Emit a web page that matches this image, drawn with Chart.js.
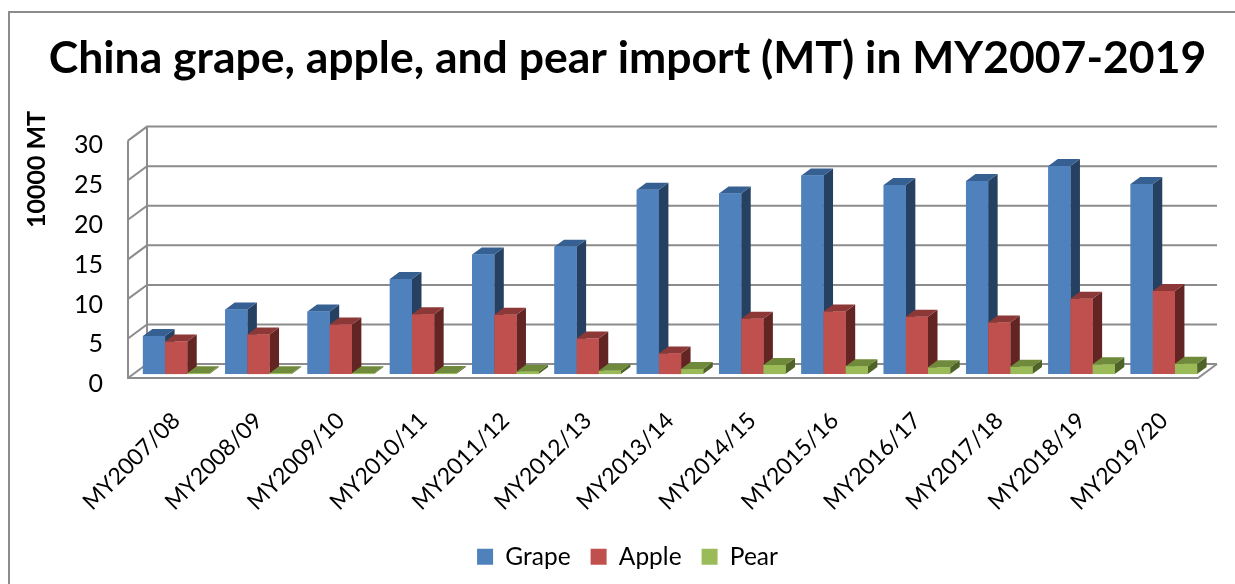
<!DOCTYPE html>
<html>
<head>
<meta charset="utf-8">
<script src="https://cdn.jsdelivr.net/npm/chart.js@4"></script>
<style>
  html, body { margin: 0; padding: 0; background: #fff; }
  #wrap { position: relative; width: 1235px; height: 584px; overflow: hidden; }
  #frame { position: absolute; left: 8px; top: 11px; width: 1300px; height: 700px; border: 2px solid #8c8c8c; }
</style>
</head>
<body>
<div id="wrap">
  <canvas id="importChart" width="1235" height="584"></canvas>
  <div id="frame"></div>
</div>
<script>
const categories = ['MY2007/08', 'MY2008/09', 'MY2009/10', 'MY2010/11', 'MY2011/12', 'MY2012/13', 'MY2013/14',
    'MY2014/15', 'MY2015/16', 'MY2016/17', 'MY2017/18', 'MY2018/19', 'MY2019/20'];
const grape = [4.8, 8.15, 7.9, 12.0, 15.1, 16.1, 23.3, 22.8, 25.1, 23.9, 24.4, 26.3, 24.0];
const apple = [4.1, 5.0, 6.25, 7.55, 7.5, 4.48, 2.6, 7.0, 7.9, 7.25, 6.5, 9.5, 10.5];
const pear = [0.1, 0.1, 0.1, 0.13, 0.3, 0.42, 0.63, 1.14, 1.0, 0.85, 0.93, 1.23, 1.3];
const gridValues = [0, 5, 10, 15, 20, 25, 30];

const faceColors = [
    { top: '#376092', side: '#254061' },
    { top: '#8C3836', side: '#632523' },
    { top: '#6F8A3A', side: '#4F6228' }
];
const depthX = 9.5;
const depthY = 7;
const font = 'Lato, Carlito, Calibri, sans-serif';

function poly(ctx, pts, color) {
    ctx.beginPath();
    ctx.moveTo(pts[0][0], pts[0][1]);
    pts.slice(1).forEach(p => ctx.lineTo(p[0], p[1]));
    ctx.closePath();
    ctx.fillStyle = color;
    ctx.fill();
}

// back wall, side wall and floor of the 3d box
const wallsPlugin = {
    id: 'walls',
    beforeDatasetsDraw(chart) {
        const ctx = chart.ctx;
        const y = chart.scales.y;
        const area = chart.chartArea;
        const backL = area.left + 12, backR = area.right + 12;
        const frontL = area.left - 7, frontR = area.right - 7;
        ctx.save();
        ctx.strokeStyle = '#8c8c8c';
        ctx.lineWidth = 2;
        gridValues.forEach(v => {
            const py = y.getPixelForValue(v);
            ctx.beginPath();
            ctx.moveTo(frontL, py + 4);
            ctx.lineTo(backL, py - 10);
            ctx.lineTo(backR, py - 10);
            ctx.stroke();
        });
        const top = y.getPixelForValue(30), base = y.getPixelForValue(0);
        ctx.beginPath();
        ctx.moveTo(frontL, top + 4);
        ctx.lineTo(frontL, base + 4);
        ctx.lineTo(frontR, base + 4);
        ctx.lineTo(backR, base - 10);
        ctx.moveTo(backL, top - 10);
        ctx.lineTo(backL, base - 10);
        ctx.stroke();
        ctx.restore();
    }
};

// side and top faces, repainted bar by bar so nearer bars cover them correctly
const depthPlugin = {
    id: 'depth',
    afterDatasetsDraw(chart) {
        const ctx = chart.ctx;
        categories.forEach((c, i) => {
            chart.data.datasets.forEach((ds, d) => {
                const bar = chart.getDatasetMeta(d).data[i];
                const l = bar.x - bar.width / 2, r = bar.x + bar.width / 2;
                poly(ctx, [[r, bar.y], [r + depthX, bar.y - depthY], [r + depthX, bar.base - depthY], [r, bar.base]], faceColors[d].side);
                poly(ctx, [[l, bar.y], [l + depthX, bar.y - depthY], [r + depthX, bar.y - depthY], [r, bar.y]], faceColors[d].top);
                bar.draw(ctx);
            });
        });
    }
};

new Chart(document.getElementById('importChart').getContext('2d'), {
    type: 'bar',
    data: {
        labels: categories,
        datasets: [
            { label: 'Grape', data: grape, backgroundColor: '#4F81BD', yAxisID: 'y' },
            { label: 'Apple', data: apple, backgroundColor: '#C0504D', yAxisID: 'y' },
            { label: 'Pear', data: pear, backgroundColor: '#9BBB59', yAxisID: 'y' }
        ]
    },
    plugins: [wallsPlugin, depthPlugin],
    options: {
        responsive: false,
        animation: false,
        layout: { padding: { left: 20, right: 0, top: 0, bottom: 5 } },
        datasets: { bar: { categoryPercentage: 0.808, barPercentage: 1 } },
        plugins: {
            tooltip: { enabled: false },
            title: {
                display: true,
                text: 'China grape, apple, and pear import (MT) in MY2007-2019',
                color: '#000',
                font: { family: font, size: 44.5, weight: 'bold' },
                padding: { top: 32, bottom: 25.5 }
            },
            legend: {
                position: 'bottom',
                labels: {
                    color: '#000',
                    boxWidth: 16,
                    boxHeight: 16,
                    padding: 20,
                    font: { family: font, size: 24.5 }
                }
            }
        },
        scales: {
            x: {
                grid: { display: false },
                border: { display: false },
                ticks: {
                    color: '#000',
                    minRotation: 45,
                    maxRotation: 45,
                    autoSkip: false,
                    padding: 15,
                    font: { family: font, size: 23 }
                },
                afterFit(scale) { scale.height = 140.4; }
            },
            y: { display: false, min: -1.27, max: 33.25 },
            yl: {
                position: 'left',
                min: 0,
                max: 34.3,
                grid: { display: false, drawTicks: false },
                border: { display: false },
                title: {
                    display: true,
                    text: '10000 MT',
                    align: 'end',
                    color: '#000',
                    font: { family: font, size: 25, weight: 'bold' },
                    padding: { top: 2, bottom: 0 }
                },
                ticks: {
                    color: '#000',
                    stepSize: 5,
                    includeBounds: false,
                    padding: 32,
                    font: { family: font, size: 25 }
                },
                afterFit(scale) { scale.width = 115; }
            },
            // empty right axis, keeps the plot clear of the right edge
            yr: {
                position: 'right',
                grid: { display: false, drawTicks: false },
                border: { display: false },
                ticks: { display: false },
                afterFit(scale) { scale.width = 30; }
            }
        }
    }
});
</script>
</body>
</html>
